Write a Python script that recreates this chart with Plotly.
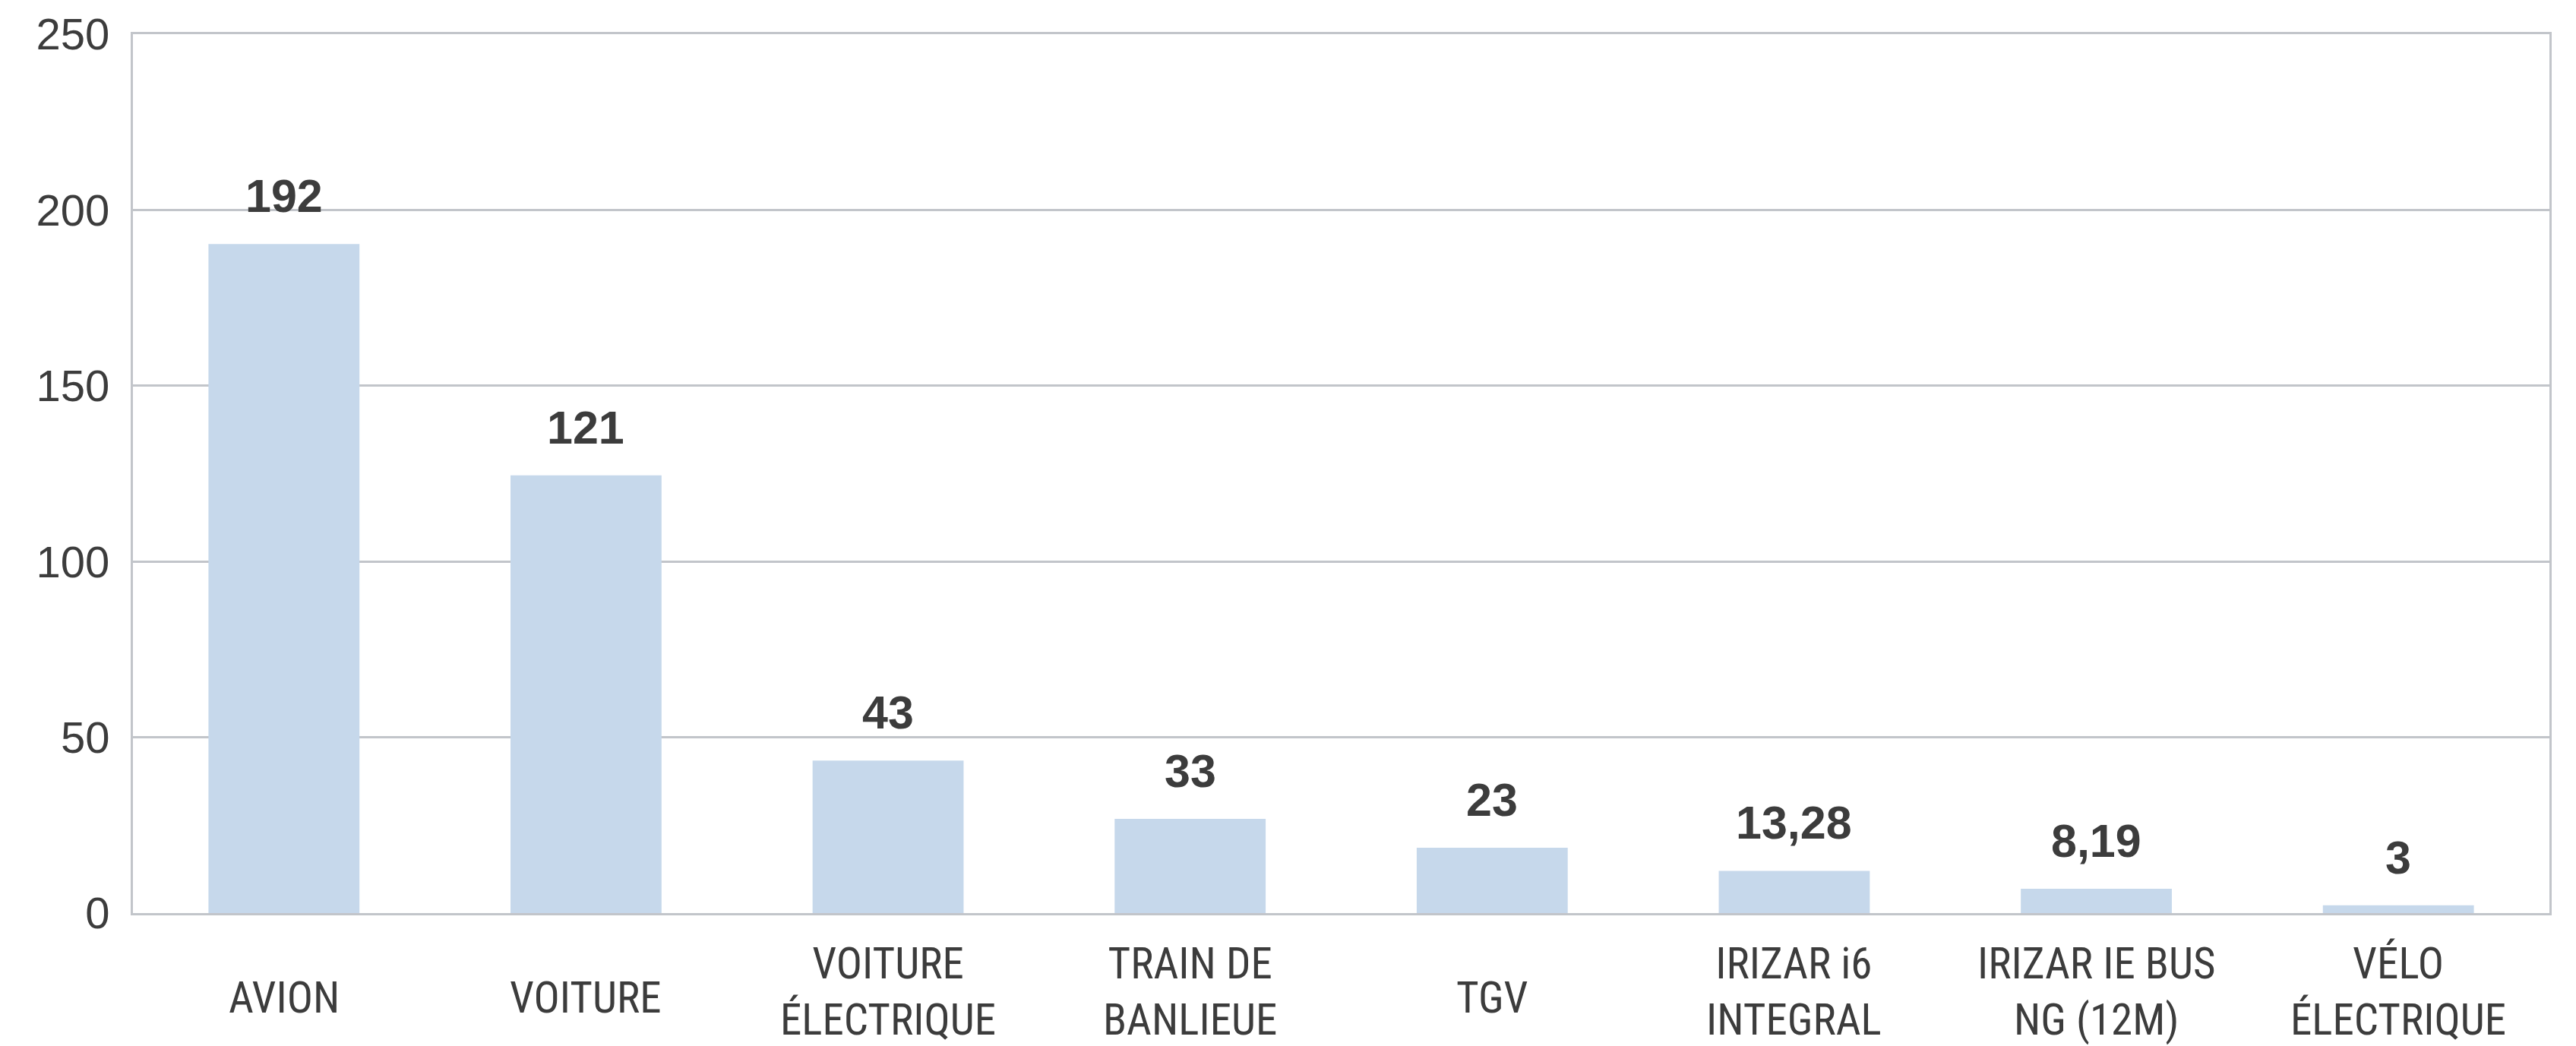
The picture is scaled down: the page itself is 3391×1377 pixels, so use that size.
import plotly.graph_objects as go

# Data
categories = ["AVION", "VOITURE", "VOITURE<br>ÉLECTRIQUE", "TRAIN DE<br>BANLIEUE", "TGV",
              "IRIZAR i6<br>INTEGRAL", "IRIZAR IE BUS<br>NG (12M)", "VÉLO<br>ÉLECTRIQUE"]
bar_heights = [190.3, 124.5, 43.4, 26.8, 18.6, 12.0, 6.9, 2.2]
value_labels = ["192", "121", "43", "33", "23", "13,28", "8,19", "3"]
y_ticks = [0, 50, 100, 150, 200, 250]

TEXT = "#3c3c3c"
GRID = "#c2c5ca"
BAR = "#c6d8eb"
NARROW = "Liberation Sans Narrow, Roboto Condensed, DejaVu Sans Condensed, Liberation Sans, sans-serif"
REG = "Liberation Sans, Arial, sans-serif"

fig = go.Figure()
fig.add_trace(go.Bar(x=categories, y=bar_heights, marker=dict(color=BAR, line=dict(width=0)),
                     hoverinfo="skip"))

ann = []
for c, v, t in zip(categories, bar_heights, value_labels):
    ann.append(dict(x=c, y=v, xref="x", yref="y", text=t, showarrow=False,
                    yanchor="bottom", yshift=27,
                    font=dict(family=REG, size=61, color=TEXT, weight="bold")))

for c in categories:
    n = c.count("<br>") + 1
    ann.append(dict(x=c, y=0, xref="x", yref="paper", text=c, showarrow=False,
                    yanchor="middle", yshift=-111 + 8 * (n - 1),
                    font=dict(family=NARROW, size=57, color=TEXT)))

fig.update_layout(
    width=3391, height=1377,
    margin=dict(l=175, r=35, t=39, b=175),
    paper_bgcolor="white", plot_bgcolor="white",
    showlegend=False, bargap=0.5,
    annotations=ann,
)
fig.update_xaxes(showticklabels=False, showline=True, linecolor=GRID, linewidth=3,
                 mirror=True, showgrid=False, ticks="")
fig.update_yaxes(range=[0, 250], tickvals=y_ticks, showgrid=True, gridcolor=GRID, gridwidth=3,
                 showline=True, linecolor=GRID, linewidth=3, mirror=True, zeroline=False,
                 ticks="", ticklabelstandoff=16, ticklabeloverflow="allow",
                 tickfont=dict(family=REG, size=58, color=TEXT))

fig.write_html("out.html", config={"displayModeBar": False},
               post_script="document.body.style.margin='0';document.body.style.overflow='hidden';")
